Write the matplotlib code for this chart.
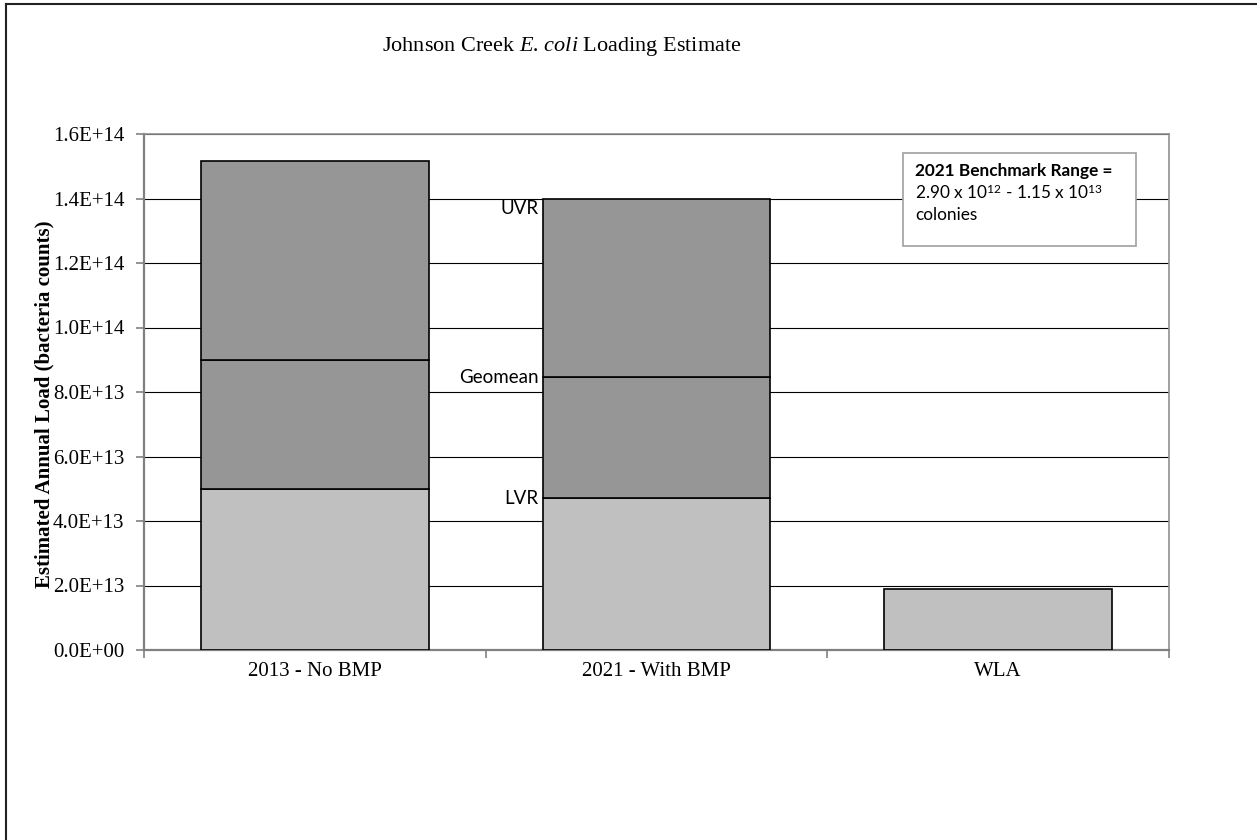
import matplotlib
matplotlib.use('Agg')
import matplotlib.pyplot as plt
import numpy as np
from matplotlib.lines import Line2D

# chart values
categories = ['2013 - No BMP', '2021 - With BMP', 'WLA']
lvr = [5.0e13, 4.7e13, 1.9e13]
geomean = [9.0e13, 8.45e13, np.nan]
uvr = [1.515e14, 1.40e14, np.nan]
yticks = np.arange(0, 1.61e14, 2e13)

light = '#c0c0c0'
dark = '#969696'
serif = 'Liberation Serif'
sans = 'Lato'

plt.rcParams['mathtext.fontset'] = 'custom'
plt.rcParams['mathtext.rm'] = sans
plt.rcParams['mathtext.it'] = serif + ':italic'

fig = plt.figure(figsize=(12.57, 8.4), dpi=100)
ax = fig.add_axes([144/1257, 1 - 650/840, (1169 - 144)/1257, (650 - 134)/840])

x = np.arange(len(categories))
w = 0.667
lo = np.array(lvr)
mid = np.array(geomean)
hi = np.array(uvr)

ax.bar(x, lo, width=w, color=light, edgecolor='black', linewidth=1.2, zorder=3)
has = ~np.isnan(mid)
ax.bar(x[has], mid[has] - lo[has], bottom=lo[has], width=w, color=dark,
       edgecolor='black', linewidth=1.2, zorder=3)
ax.bar(x[has], hi[has] - mid[has], bottom=mid[has], width=w, color=dark,
       edgecolor='black', linewidth=1.2, zorder=3)

# labels beside the 2021 bar
left = x[1] - w / 2
ax.annotate('UVR', (left, hi[1]), xytext=(-3, -1), textcoords='offset points',
            ha='right', va='top', fontsize=13.5, family=sans)
ax.annotate('Geomean', (left, mid[1]), xytext=(-3, 0), textcoords='offset points',
            ha='right', va='center', fontsize=13.5, family=sans)
ax.annotate('LVR', (left, lo[1]), xytext=(-3, 0), textcoords='offset points',
            ha='right', va='center', fontsize=13.5, family=sans)

ax.set_xlim(-0.5, 2.5)
ax.set_ylim(0, 1.6e14)
ax.set_yticks(yticks)
ax.set_yticklabels([f'{v:.1E}' for v in yticks], family=serif, fontsize=15)
ax.yaxis.grid(True, color='black', linewidth=0.8, zorder=0)
ax.set_axisbelow(True)

ax.set_xticks([-0.5, 0.5, 1.5, 2.5])
ax.set_xticklabels([])
ax.set_xticks(x, minor=True)
ax.set_xticklabels(categories, minor=True, family=serif, fontsize=15)
ax.tick_params(axis='x', which='minor', length=0, pad=9)
ax.tick_params(axis='x', which='major', length=6, color='#808080', width=1.2)
ax.tick_params(axis='y', length=6, color='#808080', width=1.2, pad=8)

for s in ax.spines.values():
    s.set_color('#909090')
    s.set_linewidth(1.2)
ax.spines['left'].set_color('#808080')
ax.spines['bottom'].set_color('#808080')
ax.spines['left'].set_linewidth(1.6)
ax.spines['bottom'].set_linewidth(1.6)

ax.set_ylabel('Estimated Annual Load (bacteria counts)', family=serif,
              fontsize=15, fontweight='bold')
ax.yaxis.set_label_coords((44 - 144) / 1025, (650 - 404) / 516)
ax.yaxis.label.set_va('center')

fig.text(562/1257, 1 - 46/840, r'Johnson Creek $\mathit{E.\!\ coli}$ Loading Estimate',
         family=serif, fontsize=16, ha='center', va='center')

# benchmark text box
fig.patches.append(plt.Rectangle((903/1257, 1 - 246/840), 233/1257, 93/840,
                                 transform=fig.transFigure, facecolor='white',
                                 edgecolor='#a0a0a0', linewidth=1.2, zorder=5))
fig.text(915/1257, 1 - 171/840, '2021 Benchmark Range =', family=sans,
         fontsize=12.4, fontweight='bold', va='center', zorder=6)
fig.text(915/1257, 1 - 193/840, r'2.90 x 10$^{12}$ - 1.15 x 10$^{13}$', family=sans,
         fontsize=12.4, va='center', zorder=6)
fig.text(915/1257, 1 - 215/840, 'colonies', family=sans,
         fontsize=12.4, va='center', zorder=6)

# outer chart frame (partly cut off)
fig.add_artist(Line2D([6/1257, 1], [1 - 4/840, 1 - 4/840], transform=fig.transFigure,
                      color='#222222', linewidth=1.5))
fig.add_artist(Line2D([6/1257, 6/1257], [0, 1 - 4/840], transform=fig.transFigure,
                      color='#222222', linewidth=1.5))

fig.savefig('out.png', dpi=100, facecolor='white')
